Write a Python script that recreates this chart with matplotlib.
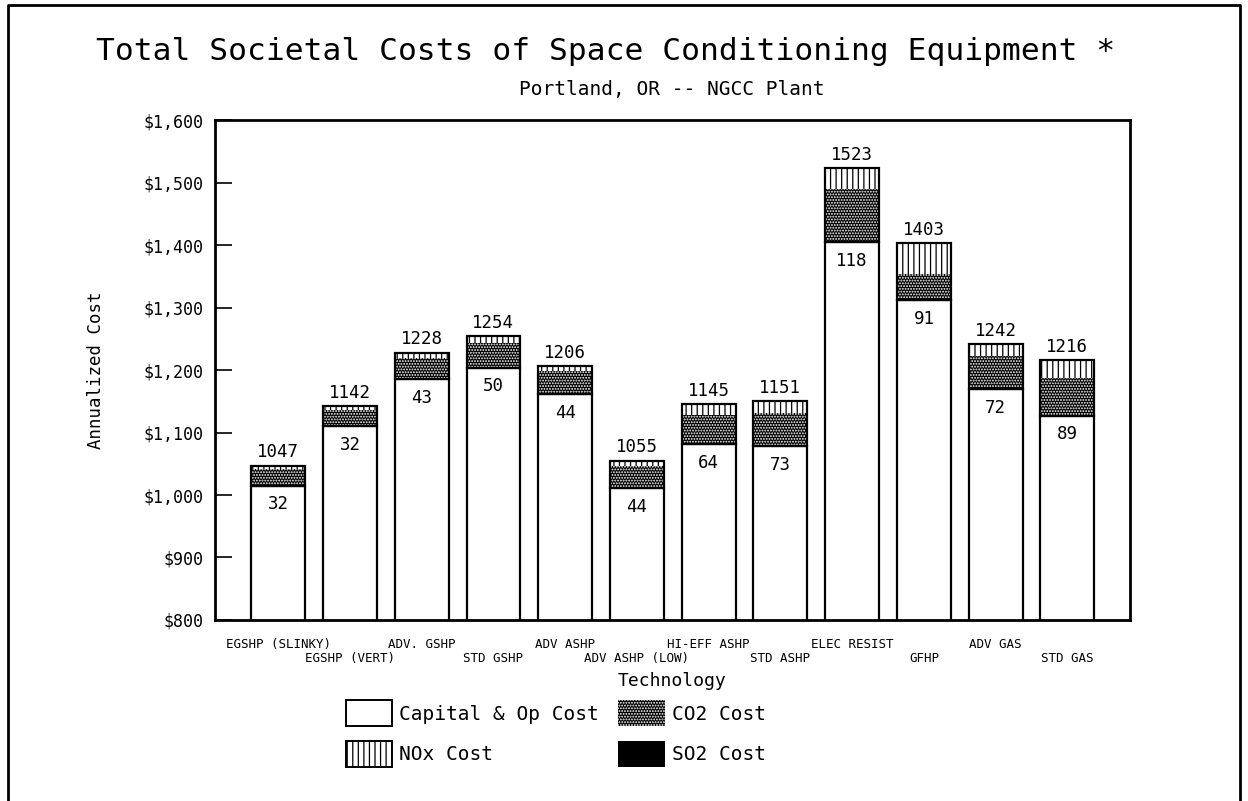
import numpy as np
import matplotlib
matplotlib.use("Agg")
import matplotlib.pyplot as plt
from matplotlib.patches import Patch
from matplotlib.lines import Line2D

technologies = ["EGSHP (SLINKY)", "EGSHP (VERT)", "ADV. GSHP", "STD GSHP", "ADV ASHP",
                "ADV ASHP (LOW)", "HI-EFF ASHP", "STD ASHP", "ELEC RESIST", "GFHP",
                "ADV GAS", "STD GAS"]
capital_op = [1015, 1110, 1185, 1204, 1162, 1011, 1081, 1078, 1405, 1312, 1170, 1127]
co2_cost = [27, 26, 34, 39, 36, 35, 47, 53, 85, 41, 52, 60]
so2_cost = [0, 0, 0, 0, 0, 0, 0, 0, 0, 0, 0, 0]
nox_cost = [5, 6, 9, 11, 8, 9, 17, 20, 33, 50, 20, 29]

y_ticks = [800, 900, 1000, 1100, 1200, 1300, 1400, 1500, 1600]
y_tick_labels = ["$800", "$900", "$1,000", "$1,100", "$1,200", "$1,300", "$1,400", "$1,500", "$1,600"]

FONT = "DejaVu Sans Mono"
plt.rcParams["font.family"] = [FONT, "DejaVu Sans"]
plt.rcParams["hatch.linewidth"] = 0.9

fig = plt.figure(figsize=(12.48, 8.01), dpi=100)
ax = fig.add_axes([0.1723, 0.226, 0.733, 0.624])

x = np.arange(len(technologies))
w = 0.75
cap = np.array(capital_op, dtype=float)
co2 = np.array(co2_cost, dtype=float)
so2 = np.array(so2_cost, dtype=float)
nox = np.array(nox_cost, dtype=float)

ax.bar(x, cap, w, facecolor="white", edgecolor="black", linewidth=1.6, zorder=2)
b1 = cap
ax.bar(x, co2, w, bottom=b1, facecolor="black", edgecolor="white", hatch="......", linewidth=0, zorder=2)
b2 = b1 + co2
ax.bar(x, so2, w, bottom=b2, facecolor="black", edgecolor="black", linewidth=0, zorder=2)
b3 = b2 + so2
ax.bar(x, nox, w, bottom=b3, facecolor="white", edgecolor="black", hatch="|||", linewidth=0, zorder=2)
total = b3 + nox
# outlines for the emission stack
ax.bar(x, co2 + so2 + nox, w, bottom=b1, fill=False, edgecolor="black", linewidth=1.6, zorder=3)

for xi, t, c, e in zip(x, total, cap, co2 + so2 + nox):
    ax.annotate(f"{int(round(t))}", (xi, t), xytext=(0, 3), textcoords="offset points",
                ha="center", va="bottom", fontsize=12.5)
    ax.annotate(f"{int(round(e))}", (xi, c), xytext=(0, -7), textcoords="offset points",
                ha="center", va="top", fontsize=12.5)

ax.set_ylim(800, 1600)
ax.set_xlim(-0.88, 11.87)
ax.set_yticks(y_ticks)
ax.set_yticklabels(y_tick_labels, fontsize=12)
ax.tick_params(axis="y", direction="in", length=12, width=1.2, pad=8, left=True, right=False)
ax.set_xticks(x)
ax.set_xticklabels(technologies, fontsize=9)
ax.tick_params(axis="x", length=0)
for i, tk in enumerate(ax.xaxis.get_major_ticks()):
    tk.set_pad(13 if i % 2 == 0 else 23)
for s in ax.spines.values():
    s.set_linewidth(2)

ax.set_xlabel("Technology", fontsize=13, labelpad=5)
ax.set_ylabel("Annualized Cost", fontsize=12.5, labelpad=28)

fig.text(0.485, 0.936, "Total Societal Costs of Space Conditioning Equipment *",
         ha="center", va="center", fontsize=22.5)
fig.text(0.538, 0.888, "Portland, OR -- NGCC Plant", ha="center", va="center", fontsize=14)

handles = [
    Patch(facecolor="white", edgecolor="black", linewidth=1.4, label="Capital & Op Cost"),
    Patch(facecolor="white", edgecolor="black", hatch="|||", linewidth=1.4, label="NOx Cost"),
    Patch(facecolor="black", edgecolor="white", hatch="......", linewidth=0, label="CO2 Cost"),
    Patch(facecolor="black", edgecolor="black", linewidth=0, label="SO2 Cost"),
]
fig.legend(handles=handles, ncol=2, loc="upper left", bbox_to_anchor=(0.277, 0.126),
           frameon=False, fontsize=14, handlelength=2.4, handleheight=1.7,
           handletextpad=0.35, columnspacing=1.0, labelspacing=0.75, borderpad=0,
           borderaxespad=0)

# outer frame
fx0, fx1, fy1 = 8 / 1248, 1240 / 1248, 1 - 5 / 801
fig.add_artist(Line2D([fx0, fx0, fx1, fx1], [0, fy1, fy1, 0], color="black", linewidth=2,
                      transform=fig.transFigure))

fig.savefig("out.png", dpi=100)
